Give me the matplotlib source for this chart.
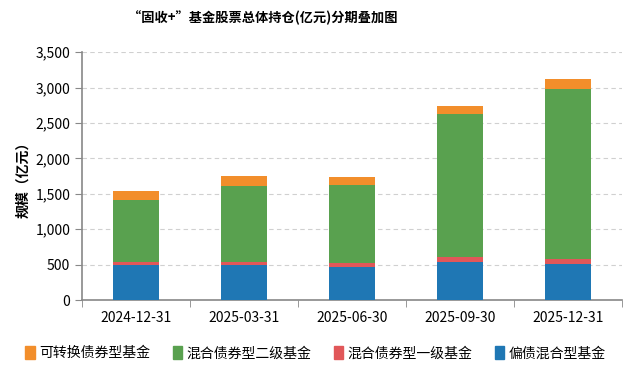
import matplotlib.pyplot as plt
import numpy as np
from matplotlib.patches import Patch

plt.rcParams['font.family'] = ['Noto Sans CJK SC', 'DejaVu Sans']

dates = ["2024-12-31", "2025-03-31", "2025-06-30", "2025-09-30", "2025-12-31"]
pianzhai = [494, 494, 466, 541, 509]        # 偏债混合型基金
hunhe_1 = [47, 47, 61, 67, 70]              # 混合债券型一级基金
hunhe_2 = [872, 1070, 1098, 2016, 2407]     # 混合债券型二级基金
kezhuan = [127, 141, 113, 122, 133]         # 可转换债券型基金

series = [
    ("偏债混合型基金", pianzhai, "#1f77b4"),
    ("混合债券型一级基金", hunhe_1, "#e15759"),
    ("混合债券型二级基金", hunhe_2, "#59a14f"),
    ("可转换债券型基金", kezhuan, "#f28e2b"),
]

fig = plt.figure(figsize=(6.31, 3.75), dpi=100)
ax = fig.add_axes([0.13, 0.2, 0.856, 0.661])

x = np.arange(len(dates))
bottom = np.zeros(len(dates))
for name, vals, color in series:
    ax.bar(x, vals, width=0.43, bottom=bottom, color=color, label=name, zorder=3)
    bottom += np.array(vals)

ax.set_xlim(-0.5, len(dates) - 0.5)
ax.set_ylim(0, 3500)
ax.set_yticks(range(0, 3501, 500))
ax.set_yticklabels([f"{v:,}" for v in range(0, 3501, 500)], fontsize=10)
ax.set_xticks(x)
ax.set_xticklabels(dates, fontsize=10)
ax.set_xticks(np.arange(-0.5, len(dates), 1), minor=True)
ax.tick_params(axis="x", which="major", length=0, pad=8)
ax.tick_params(axis="x", which="minor", length=5, color="#888888")
ax.tick_params(axis="y", length=5, color="#888888")
ax.grid(axis="y", ls=(0, (4, 3)), color="#d0d0d0", lw=0.8, zorder=0)
for s in ["top", "right"]:
    ax.spines[s].set_visible(False)
for s in ["left", "bottom"]:
    ax.spines[s].set_color("#888888")
    ax.spines[s].set_linewidth(1.2)

ax.set_ylabel("规模（亿元）", fontsize=10, fontweight="bold")
fig.suptitle("“固收+”基金股票总体持仓(亿元)分期叠加图", fontsize=9.5,
             fontweight="bold", x=0.417, y=0.972)

handles = [Patch(color=c, label=n) for n, v, c in reversed(series)]
fig.legend(handles=handles, loc="center", bbox_to_anchor=(0.5, 0.058), ncol=4,
           frameon=False, fontsize=10, handlelength=0.7, handleheight=1.0,
           handletextpad=0.3, columnspacing=1.6)

fig.savefig("out.png", dpi=100)
